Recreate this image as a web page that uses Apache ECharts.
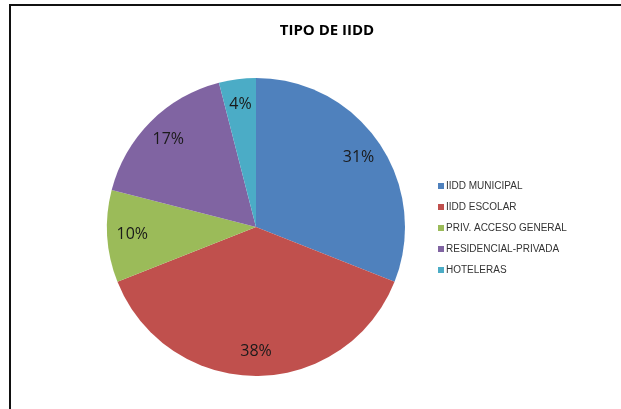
<!DOCTYPE html>
<html>
<head>
<meta charset="utf-8">
<script src="https://cdn.jsdelivr.net/npm/echarts@6/dist/echarts.min.js"></script>
<style>
  html, body { margin: 0; padding: 0; background: #fff; }
  #chart { width: 621px; height: 409px; }
</style>
</head>
<body>
<div id="chart"></div>
<script>
// Installation types and their share (%)
const categories = ['IIDD MUNICIPAL', 'IIDD ESCOLAR', 'PRIV. ACCESO GENERAL', 'RESIDENCIAL-PRIVADA', 'HOTELERAS'];
const shares = [31, 38, 10, 17, 4];
const colors = ['#4F81BD', '#C0504D', '#9BBB59', '#8064A2', '#4BACC6'];

const pieData = categories.map((name, i) => ({ name, value: shares[i] }));

const chart = echarts.init(document.getElementById('chart'), null, { renderer: 'canvas' });
chart.setOption({
  backgroundColor: '#ffffff',
  animation: false,
  title: {
    text: 'TIPO DE IIDD',
    left: 322,
    top: 18,
    textAlign: 'center',
    textStyle: { fontFamily: 'Open Sans', fontWeight: 'bold', fontSize: 15, color: '#000' }
  },
  graphic: [{
    type: 'rect',
    shape: { x: 10, y: 5, width: 700, height: 500 },
    style: { fill: 'none', stroke: '#111', lineWidth: 2 },
    silent: true
  }],
  legend: {
    orient: 'vertical',
    left: 433,
    top: 176,
    itemWidth: 6,
    itemHeight: 6,
    itemGap: 11,
    icon: 'rect',
    data: categories,
    textStyle: { fontFamily: 'Liberation Sans', fontSize: 10, color: '#333', padding: [0, 0, 0, -3] }
  },
  series: [
    {
      type: 'pie',
      center: [256, 227],
      radius: [0, 149],
      startAngle: 90,
      clockwise: true,
      color: colors,
      data: pieData,
      label: { show: false },
      labelLine: { show: false },
      silent: true
    },
    {
      // see-through ring carrying the percentage labels further out than mid-radius
      type: 'pie',
      center: [256, 227],
      radius: [0, 242],
      startAngle: 90,
      clockwise: true,
      data: pieData,
      itemStyle: { color: 'rgba(0,0,0,0)', borderWidth: 0 },
      label: {
        show: true,
        position: 'inside',
        formatter: p => p.value + '%',
        fontFamily: 'Open Sans',
        fontSize: 16,
        color: '#1a1a1a'
      },
      labelLine: { show: false },
      silent: true
    }
  ]
});
</script>
</body>
</html>
